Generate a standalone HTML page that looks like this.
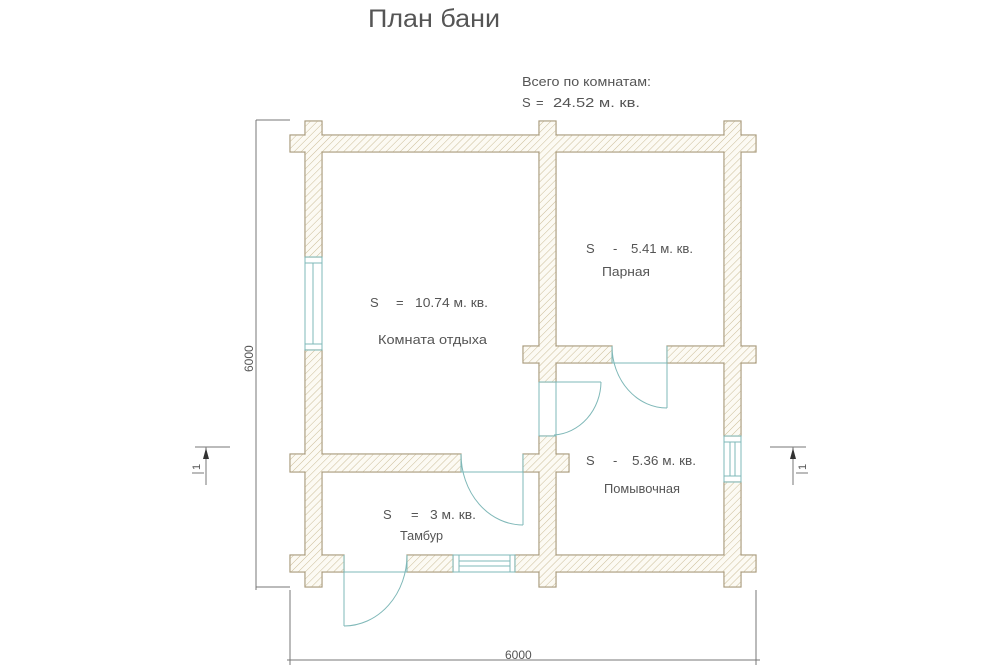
<!DOCTYPE html>
<html><head><meta charset="utf-8"><style>
html,body{margin:0;padding:0;background:#fff}
svg{display:block}
text{font-family:"Liberation Sans","DejaVu Sans",sans-serif;fill:#555}
</style></head><body>
<svg width="1000" height="667" viewBox="0 0 1000 667" xmlns="http://www.w3.org/2000/svg">
<defs>
<pattern id="h" width="5" height="5" patternUnits="userSpaceOnUse" patternTransform="rotate(45)">
<rect width="5" height="5" fill="#fcfaf3"/>
<line x1="0" y1="0" x2="0" y2="5" stroke="#cbbd98" stroke-width="1"/>
</pattern>
</defs>
<g id="walls">
<g stroke="#a8997a" stroke-width="1.2" fill="none">
<rect x="290" y="135" width="466" height="17"/>
<rect x="290" y="555" width="54" height="17"/>
<rect x="407" y="555" width="46" height="17"/>
<rect x="515" y="555" width="241" height="17"/>
<rect x="305" y="121" width="17" height="136"/>
<rect x="305" y="350" width="17" height="237"/>
<rect x="724" y="121" width="17" height="315"/>
<rect x="724" y="482" width="17" height="105"/>
<rect x="539" y="121" width="17" height="261"/>
<rect x="539" y="436" width="17" height="151"/>
<rect x="290" y="454" width="171" height="18"/>
<rect x="523" y="454" width="46" height="18"/>
<rect x="523" y="346" width="89" height="17"/>
<rect x="667" y="346" width="89" height="17"/>
</g>
<g fill="url(#h)">
<rect x="290.6" y="135.6" width="464.8" height="15.8"/>
<rect x="290.6" y="555.6" width="52.8" height="15.8"/>
<rect x="407.6" y="555.6" width="44.8" height="15.8"/>
<rect x="515.6" y="555.6" width="239.8" height="15.8"/>
<rect x="305.6" y="121.6" width="15.8" height="134.8"/>
<rect x="305.6" y="350.6" width="15.8" height="235.8"/>
<rect x="724.6" y="121.6" width="15.8" height="313.8"/>
<rect x="724.6" y="482.6" width="15.8" height="103.8"/>
<rect x="539.6" y="121.6" width="15.8" height="259.8"/>
<rect x="539.6" y="436.6" width="15.8" height="149.8"/>
<rect x="290.6" y="454.6" width="169.8" height="16.8"/>
<rect x="523.6" y="454.6" width="44.8" height="16.8"/>
<rect x="523.6" y="346.6" width="87.8" height="15.8"/>
<rect x="667.6" y="346.6" width="87.8" height="15.8"/>
</g>
</g>
<g stroke="#7fb8b8" stroke-width="1" fill="none">
<rect x="305" y="257" width="17" height="93"/>
<line x1="305" y1="263" x2="322" y2="263"/><line x1="305" y1="344" x2="322" y2="344"/>
<line x1="313" y1="263" x2="313" y2="344"/>
<rect x="724" y="436" width="17" height="46"/>
<line x1="724" y1="442" x2="741" y2="442"/><line x1="724" y1="476" x2="741" y2="476"/>
<line x1="730" y1="442" x2="730" y2="476"/><line x1="735" y1="442" x2="735" y2="476"/>
<rect x="453" y="555" width="62" height="17"/>
<line x1="459" y1="555" x2="459" y2="572"/><line x1="510" y1="555" x2="510" y2="572"/>
<line x1="459" y1="561" x2="510" y2="561"/><line x1="459" y1="566" x2="510" y2="566"/>
<line x1="539" y1="382" x2="539" y2="436"/><line x1="556" y1="382" x2="556" y2="436"/>
<line x1="539" y1="382" x2="601" y2="382"/><line x1="539" y1="436" x2="556" y2="436"/>
<path d="M601,382 A50,54 0 0 1 554,435"/>
<line x1="612" y1="346" x2="612" y2="363"/><line x1="612" y1="363" x2="667" y2="363"/>
<line x1="667" y1="346" x2="667" y2="408"/>
<path d="M612,346 A55,62 0 0 0 667,408"/>
<line x1="461" y1="454" x2="461" y2="472"/><line x1="461" y1="472" x2="523" y2="472"/>
<line x1="523" y1="454" x2="523" y2="525"/>
<path d="M461,454 A62,71 0 0 0 523,525"/>
<line x1="344" y1="572" x2="407" y2="572"/><line x1="407" y1="555" x2="407" y2="572"/>
<line x1="344" y1="555" x2="344" y2="626"/>
<path d="M407,555 A63,71 0 0 1 344,626"/>
</g>
<g stroke="#777" stroke-width="1" fill="none">
<line x1="256" y1="120" x2="256" y2="590"/>
<line x1="256" y1="120" x2="290" y2="120"/>
<line x1="256" y1="587" x2="290" y2="587"/>
<line x1="290" y1="590" x2="290" y2="665"/>
<line x1="756" y1="590" x2="756" y2="665"/>
<line x1="287" y1="660" x2="760" y2="660"/>
<line x1="195" y1="447" x2="230" y2="447"/>
<line x1="206" y1="447" x2="206" y2="485"/>
<line x1="192" y1="473" x2="204" y2="473"/>
<line x1="770" y1="447" x2="806" y2="447"/>
<line x1="793" y1="447" x2="793" y2="485"/>
<line x1="796" y1="473" x2="808" y2="473"/>
</g>
<path d="M206,448 L203,459 L209,459 Z" fill="#333"/>
<path d="M793,448 L790,459 L796,459 Z" fill="#333"/>
<text x="368" y="27" font-size="25" fill="#777" textLength="132" lengthAdjust="spacingAndGlyphs">План бани</text>
<text x="522" y="86" font-size="13" textLength="129" lengthAdjust="spacingAndGlyphs">Всего по комнатам:</text>
<text x="522" y="107" font-size="13">S</text><text x="536" y="107" font-size="13">=</text>
<text x="553" y="107" font-size="13" textLength="87" lengthAdjust="spacingAndGlyphs">24.52 м. кв.</text>
<text x="370" y="307" font-size="13">S</text><text x="396" y="307" font-size="13">=</text>
<text x="415" y="307" font-size="13" textLength="73" lengthAdjust="spacingAndGlyphs">10.74 м. кв.</text>
<text x="378" y="344" font-size="13" textLength="109" lengthAdjust="spacingAndGlyphs">Комната отдыха</text>
<text x="586" y="253" font-size="13">S</text><text x="613" y="253" font-size="13">-</text>
<text x="631" y="253" font-size="13" textLength="62" lengthAdjust="spacingAndGlyphs">5.41 м. кв.</text>
<text x="602" y="276" font-size="13" textLength="48" lengthAdjust="spacingAndGlyphs">Парная</text>
<text x="586" y="465" font-size="13">S</text><text x="613" y="465" font-size="13">-</text>
<text x="632" y="465" font-size="13" textLength="64" lengthAdjust="spacingAndGlyphs">5.36 м. кв.</text>
<text x="604" y="493" font-size="13" textLength="76" lengthAdjust="spacingAndGlyphs">Помывочная</text>
<text x="383" y="519" font-size="13">S</text><text x="411" y="519" font-size="13">=</text>
<text x="430" y="519" font-size="13" textLength="46" lengthAdjust="spacingAndGlyphs">3 м. кв.</text>
<text x="400" y="540" font-size="13" textLength="43" lengthAdjust="spacingAndGlyphs">Тамбур</text>
<text x="505" y="659" font-size="12">6000</text>
<text transform="translate(253,372) rotate(-90)" font-size="12">6000</text>
<text transform="translate(200,470) rotate(-90)" font-size="11">1</text>
<text transform="translate(806,470) rotate(-90)" font-size="11">1</text>
</svg>
</body></html>
